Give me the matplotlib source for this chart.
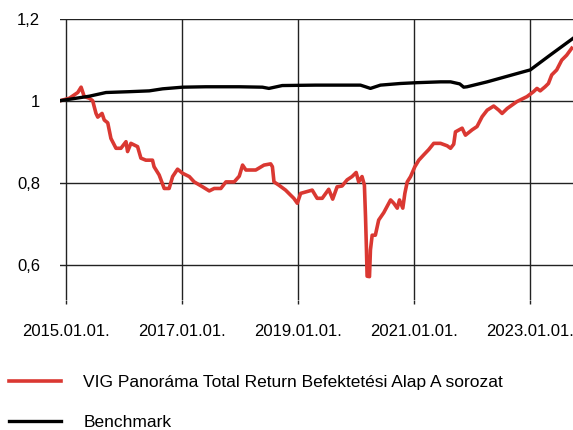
import pandas as pd
import matplotlib
matplotlib.use('Agg')
import matplotlib.pyplot as plt
import matplotlib.dates as mdates
from matplotlib.ticker import FuncFormatter

plt.rcParams['font.family'] = ['Liberation Sans', 'DejaVu Sans']

# Fund (red) series
fund_dates = [
    '2014-11-23', '2015-01-21', '2015-03-15', '2015-04-05', '2015-04-25', '2015-05-27',
    '2015-06-17', '2015-06-27', '2015-07-08', '2015-07-19', '2015-08-15', '2015-08-29',
    '2015-09-20', '2015-10-10', '2015-11-11', '2015-12-12', '2016-01-13', '2016-01-23',
    '2016-02-13', '2016-03-26', '2016-04-16', '2016-05-17', '2016-06-28', '2016-07-08',
    '2016-08-09', '2016-09-10', '2016-10-11', '2016-11-02', '2016-12-03', '2017-01-04',
    '2017-02-15', '2017-03-18', '2017-05-10', '2017-06-21', '2017-07-22', '2017-09-02',
    '2017-10-04', '2017-11-25', '2017-12-27', '2018-01-17', '2018-02-07', '2018-04-10',
    '2018-06-01', '2018-07-13', '2018-07-24', '2018-08-03', '2018-09-03', '2018-10-15',
    '2018-11-15', '2018-12-06', '2018-12-28', '2019-01-18', '2019-04-01', '2019-05-02',
    '2019-06-03', '2019-07-14', '2019-08-08', '2019-09-05', '2019-10-06', '2019-11-07',
    '2019-12-08', '2020-01-03', '2020-01-19', '2020-02-09', '2020-02-24', '2020-03-02',
    '2020-03-08', '2020-03-12', '2020-03-27', '2020-04-02', '2020-04-13', '2020-05-03',
    '2020-05-24', '2020-06-25', '2020-08-07', '2020-08-27', '2020-09-18', '2020-10-02',
    '2020-10-23', '2020-11-05', '2020-11-20', '2020-12-11', '2021-01-07', '2021-02-01',
    '2021-03-04', '2021-04-05', '2021-05-06', '2021-06-18', '2021-07-30', '2021-08-20',
    '2021-09-09', '2021-09-20', '2021-11-01', '2021-11-22', '2022-01-03', '2022-02-03',
    '2022-03-07', '2022-04-08', '2022-05-19', '2022-06-20', '2022-07-11', '2022-08-12',
    '2022-10-13', '2022-12-15', '2023-01-25', '2023-02-16', '2023-03-08', '2023-04-08',
    '2023-04-29', '2023-05-20', '2023-06-20', '2023-07-22', '2023-08-22', '2023-09-23',
]
fund_values = [
    1.000, 1.006, 1.020, 1.033, 1.010, 1.006,
    1.000, 0.985, 0.969, 0.960, 0.969, 0.953,
    0.946, 0.908, 0.884, 0.884, 0.900, 0.876,
    0.896, 0.888, 0.860, 0.855, 0.855, 0.839,
    0.819, 0.786, 0.786, 0.815, 0.833, 0.823,
    0.815, 0.802, 0.790, 0.780, 0.786, 0.786,
    0.802, 0.802, 0.816, 0.843, 0.831, 0.831,
    0.843, 0.846, 0.839, 0.802, 0.794, 0.782,
    0.770, 0.762, 0.750, 0.774, 0.782, 0.762,
    0.762, 0.784, 0.760, 0.790, 0.792, 0.807,
    0.815, 0.825, 0.802, 0.815, 0.794, 0.717,
    0.636, 0.572, 0.571, 0.636, 0.672, 0.672,
    0.709, 0.727, 0.758, 0.750, 0.738, 0.758,
    0.738, 0.774, 0.802, 0.815, 0.839, 0.855,
    0.868, 0.881, 0.896, 0.896, 0.890, 0.884,
    0.894, 0.924, 0.933, 0.916, 0.929, 0.937,
    0.961, 0.977, 0.987, 0.977, 0.969, 0.981,
    0.998, 1.010, 1.022, 1.030, 1.024, 1.034,
    1.042, 1.063, 1.075, 1.099, 1.111, 1.128,
]

# Benchmark (black) series
bench_dates = [
    '2014-11-23', '2015-03-04', '2015-05-27', '2015-09-09', '2016-02-02', '2016-06-08',
    '2016-08-31', '2017-01-04', '2017-05-30', '2017-12-27', '2018-05-22', '2018-07-02',
    '2018-09-24', '2019-04-22', '2019-08-14', '2020-01-30', '2020-03-02', '2020-04-02',
    '2020-06-04', '2020-10-08', '2021-01-22', '2021-06-18', '2021-08-20', '2021-10-17',
    '2021-11-11', '2021-12-02', '2022-04-08', '2022-12-15', '2023-01-04', '2023-05-09',
    '2023-10-01',
]
bench_values = [
    1.000, 1.006, 1.011, 1.020, 1.022, 1.024,
    1.029, 1.033, 1.034, 1.034, 1.033, 1.030,
    1.037, 1.038, 1.038, 1.038, 1.034, 1.030,
    1.038, 1.042, 1.044, 1.046, 1.046, 1.041,
    1.033, 1.034, 1.046, 1.073, 1.075, 1.111,
    1.152,
]

tick_dates = ['2015-01-01', '2017-01-01', '2019-01-01', '2021-01-01', '2023-01-01']
y_ticks = [0.6, 0.8, 1.0, 1.2]
labels = ['VIG Panoráma Total Return Befektetési Alap A sorozat', 'Benchmark']

fund = pd.Series(fund_values, index=pd.to_datetime(fund_dates))
bench = pd.Series(bench_values, index=pd.to_datetime(bench_dates))

fig = plt.figure(figsize=(5.73, 4.30), dpi=100)
ax = fig.add_axes([60 / 573, 1 - 300 / 430, 1 - 60 / 573, (300 - 18.7) / 430])

red_line, = ax.plot(fund.index, fund.values, color='#da3832', lw=2.6,
                    solid_joinstyle='round', zorder=3)
black_line, = ax.plot(bench.index, bench.values, color='black', lw=2.4,
                      solid_joinstyle='round', zorder=4)

ax.set_xlim(pd.Timestamp('2014-11-23'), pd.Timestamp('2023-10-01'))
ax.set_ylim(0.514, 1.2)

ax.set_xticks(pd.to_datetime(tick_dates))
ax.xaxis.set_major_formatter(mdates.DateFormatter('%Y.%m.%d.'))
ax.set_yticks(y_ticks)
ax.yaxis.set_major_formatter(FuncFormatter(lambda v, p: f'{v:g}'.replace('.', ',')))

ax.grid(True, color='#222222', lw=1.0)
ax.set_axisbelow(True)
for s in ax.spines.values():
    s.set_visible(False)
ax.tick_params(axis='x', length=3, width=1, color='#222222', pad=14, labelsize=12)
ax.tick_params(axis='y', length=0, pad=14.4, labelsize=12)

fig.legend([red_line, black_line], labels, loc='upper left',
           bbox_to_anchor=(9.3 / 573, 1 - 375 / 430), frameon=False,
           fontsize=12.5, handlelength=2.96, handletextpad=1.3,
           labelspacing=1.45, borderpad=0, borderaxespad=0)

fig.savefig('out.png', dpi=100)
